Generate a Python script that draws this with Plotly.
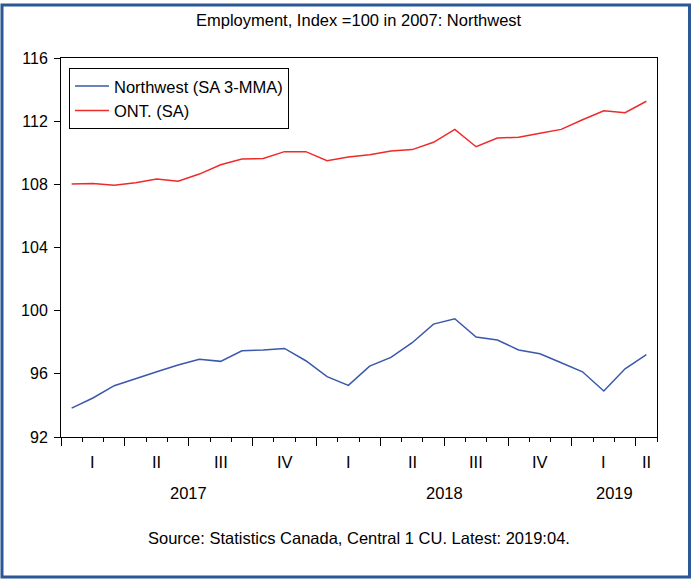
"""Employment index chart: Northwest vs Ontario, monthly 2017-2019."""

import plotly.graph_objects as go

# monthly periods, Jan 2017 - Apr 2019
months = [
    "2017-01", "2017-02", "2017-03", "2017-04", "2017-05", "2017-06",
    "2017-07", "2017-08", "2017-09", "2017-10", "2017-11", "2017-12",
    "2018-01", "2018-02", "2018-03", "2018-04", "2018-05", "2018-06",
    "2018-07", "2018-08", "2018-09", "2018-10", "2018-11", "2018-12",
    "2019-01", "2019-02", "2019-03", "2019-04",
]

northwest = [
    93.83, 94.47, 95.25, 95.71, 96.13, 96.56, 96.92, 96.79, 97.46, 97.51,
    97.61, 96.83, 95.82, 95.27, 96.49, 97.04, 97.97, 99.15, 99.49, 98.33,
    98.14, 97.51, 97.27, 96.70, 96.13, 94.91, 96.32, 97.21,
]

ontario = [
    108.02, 108.06, 107.94, 108.10, 108.34, 108.19, 108.65, 109.24, 109.60,
    109.64, 110.07, 110.07, 109.50, 109.73, 109.88, 110.11, 110.20, 110.66,
    111.48, 110.38, 110.93, 110.98, 111.23, 111.48, 112.09, 112.66, 112.54,
    113.26,
]

quarter_labels = ["I", "II", "III", "IV", "I", "II", "III", "IV", "I", "II"]
year_labels = ["2017", "2018", "2019"]

FONT = "Arial, Liberation Sans, sans-serif"
TEXT_SIZE = 16.5

# each month occupies one unit, point sits in the middle of its month
x = [i + 0.5 for i in range(len(months))]
n = len(months)

fig = go.Figure()

fig.add_trace(
    go.Scatter(
        x=x,
        y=northwest,
        mode="lines",
        name="Northwest (SA 3-MMA)",
        line={"color": "#3A58AC", "width": 1.5},
    )
)

fig.add_trace(
    go.Scatter(
        x=x,
        y=ontario,
        mode="lines",
        name="ONT. (SA)",
        line={"color": "#EE2A2A", "width": 1.5},
    )
)

# quarter labels centred in each (possibly partial) quarter
quarter_starts = list(range(0, n, 3))
for label, start in zip(quarter_labels, quarter_starts):
    end = min(start + 3, n)
    fig.add_annotation(
        x=(start + end) / 2,
        y=-0.066,
        xref="x",
        yref="paper",
        xanchor="center",
        yanchor="middle",
        text=label,
        showarrow=False,
        font={"size": TEXT_SIZE, "color": "black", "family": FONT},
    )

# year labels centred on the months of each year
for year in year_labels:
    idx = [i for i, m in enumerate(months) if m.startswith(year)]
    fig.add_annotation(
        x=(idx[0] + idx[-1] + 1) / 2,
        y=-0.148,
        xref="x",
        yref="paper",
        xanchor="center",
        yanchor="middle",
        text=year,
        showarrow=False,
        font={"size": TEXT_SIZE, "color": "black", "family": FONT},
    )

fig.add_annotation(
    x=0.5,
    y=-0.266,
    xref="paper",
    yref="paper",
    xanchor="center",
    yanchor="middle",
    text="Source: Statistics Canada, Central 1 CU. Latest: 2019:04.",
    showarrow=False,
    font={"size": TEXT_SIZE, "color": "black", "family": FONT},
)

fig.add_annotation(
    x=0.5,
    y=1.100,
    xref="paper",
    yref="paper",
    xanchor="center",
    yanchor="middle",
    text="Employment, Index =100 in 2007: Northwest",
    showarrow=False,
    font={"size": TEXT_SIZE, "color": "black", "family": FONT},
)

# outer frame around the whole graphic
fig.add_shape(
    type="rect",
    xref="paper",
    yref="paper",
    x0=-0.099,
    x1=1.0545,
    y0=-0.3694,
    y1=1.1398,
    line={"color": "#2B5797", "width": 3},
)

fig.update_layout(
    width=691,
    height=581,
    autosize=False,
    margin={"l": 61, "r": 34, "t": 58, "b": 144},
    paper_bgcolor="white",
    plot_bgcolor="white",
    font={"family": FONT, "size": TEXT_SIZE, "color": "black"},
    showlegend=True,
    legend={
        "x": 0.0134,
        "y": 0.974,
        "xanchor": "left",
        "yanchor": "top",
        "bordercolor": "black",
        "borderwidth": 1,
        "bgcolor": "white",
        "font": {"size": TEXT_SIZE, "family": FONT},
        "tracegroupgap": 0,
        "itemwidth": 34,
        "entrywidth": 190,
        "entrywidthmode": "pixels",
    },
    xaxis={
        "range": [0, n],
        "tickvals": list(range(0, n + 1, 3)),
        "showticklabels": False,
        "ticks": "outside",
        "ticklen": 8,
        "tickcolor": "black",
        "minor": {"dtick": 1, "tick0": 0, "ticks": "outside", "ticklen": 4, "tickcolor": "black"},
        "showgrid": False,
        "zeroline": False,
        "showline": True,
        "linecolor": "black",
        "linewidth": 1,
        "mirror": True,
    },
    yaxis={
        "range": [92, 116],
        "dtick": 4,
        "tick0": 92,
        "ticks": "outside",
        "ticklen": 6,
        "tickcolor": "black",
        "ticklabelstandoff": 3,
        "showgrid": False,
        "zeroline": False,
        "showline": True,
        "linecolor": "black",
        "linewidth": 1,
        "mirror": True,
        "tickfont": {"size": 16, "family": FONT},
    },
)

fig.write_html(
    "out.html",
    config={"displayModeBar": False},
    post_script="document.body.style.margin = '0';",
)
